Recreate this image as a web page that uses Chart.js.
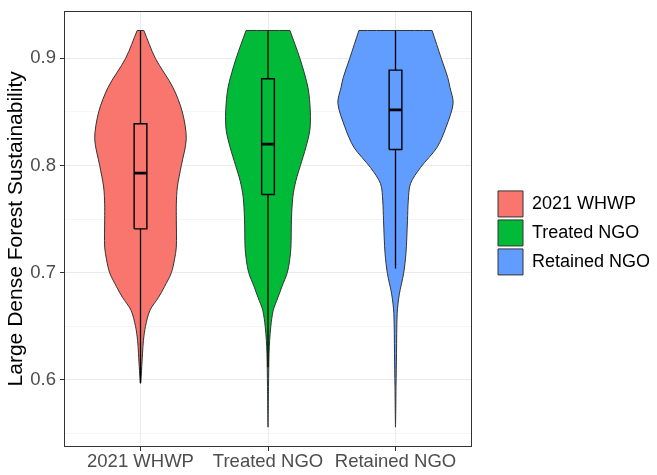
<!DOCTYPE html>
<html>
<head>
<meta charset="utf-8">
<script src="https://cdn.jsdelivr.net/npm/chart.js@4.4.1/dist/chart.umd.min.js"></script>
<style>
  html, body { margin: 0; padding: 0; background: #fff; }
  #wrap { width: 657px; height: 475px; }
</style>
</head>
<body>
<div id="wrap"><canvas id="violinChart" width="657" height="475"></canvas></div>
<script>
// ── DATA ──
const categories = ['2021 WHWP', 'Treated NGO', 'Retained NGO'];
const fills = ['#F8766D', '#00BA38', '#619CFF'];

// violin outlines: value levels (top -> tail) and half width in category units
const whwpLevels = [0.926, 0.900, 0.873, 0.850, 0.825, 0.800, 0.780, 0.764, 0.750, 0.724, 0.712, 0.700, 0.687, 0.677, 0.665, 0.650, 0.637, 0.625, 0.609, 0.597];
const whwpHalf   = [0.026, 0.117, 0.254, 0.328, 0.359, 0.320, 0.289, 0.281, 0.281, 0.281, 0.266, 0.242, 0.188, 0.141, 0.074, 0.039, 0.023, 0.016, 0.008, 0];

const treatedLevels = [0.926, 0.900, 0.873, 0.850, 0.833, 0.817, 0.800, 0.786, 0.771, 0.750, 0.724, 0.712, 0.700, 0.687, 0.677, 0.665, 0.650, 0.637, 0.625, 0.594, 0.556];
const treatedHalf   = [0.172, 0.250, 0.313, 0.332, 0.328, 0.297, 0.254, 0.219, 0.195, 0.184, 0.180, 0.170, 0.151, 0.109, 0.078, 0.041, 0.022, 0.013, 0.008, 0.004, 0];

const retainedLevels = [0.926, 0.900, 0.882, 0.873, 0.858, 0.836, 0.817, 0.798, 0.783, 0.767, 0.749, 0.718, 0.699, 0.680, 0.662, 0.625, 0.594, 0.556];
const retainedHalf   = [0.287, 0.359, 0.410, 0.427, 0.452, 0.397, 0.326, 0.195, 0.117, 0.100, 0.094, 0.082, 0.063, 0.030, 0.013, 0.008, 0.004, 0];

// box plot stats
const q1        = [0.741, 0.773, 0.815];
const medians   = [0.793, 0.820, 0.852];
const q3        = [0.839, 0.881, 0.889];
const whiskerLo = [0.597, 0.612, 0.704];
const whiskerHi = [0.926, 0.926, 0.926];

const yTicks = [0.55, 0.6, 0.65, 0.7, 0.75, 0.8, 0.85, 0.9];
const yMin = 0.5375, yMax = 0.9445;
const boxHalf = 0.05;

const violinLevels = [whwpLevels, treatedLevels, retainedLevels];
const violinHalf   = [whwpHalf, treatedHalf, retainedHalf];

// ── HELPERS ──
const isMajor = v => Math.abs(v * 10 - Math.round(v * 10)) < 1e-6;
const FONT = 'Liberation Sans, Arial, sans-serif';

function violinPath(center, levels, half) {
  const left  = levels.map((v, i) => ({ x: center - half[i], y: v }));
  const right = levels.map((v, i) => ({ x: center + half[i], y: v })).reverse();
  const topRight = right[right.length - 1];
  // repeat the top-right corner so the flat top stays straight
  return left.concat(right.slice(1), [topRight, left[0]]);
}

// ── DATASETS ──
const datasets = [];

categories.forEach((name, i) => {
  datasets.push({
    label: name,
    data: violinPath(i + 1, violinLevels[i], violinHalf[i]),
    showLine: true, fill: 'shape', tension: 0.3,
    backgroundColor: fills[i], borderColor: '#333333', borderWidth: 1,
    pointRadius: 0, order: 1
  });
});

categories.forEach((name, i) => {
  const c = i + 1;
  // whiskers
  datasets.push({
    data: [{ x: c, y: whiskerLo[i] }, { x: c, y: q1[i] }, { x: c, y: null }, { x: c, y: q3[i] }, { x: c, y: whiskerHi[i] }],
    showLine: true, spanGaps: false, borderColor: '#000', borderWidth: 1.3,
    pointRadius: 0, fill: false, order: 0
  });
  // box
  datasets.push({
    data: [
      { x: c - boxHalf, y: q1[i] }, { x: c + boxHalf, y: q1[i] },
      { x: c + boxHalf, y: q3[i] }, { x: c - boxHalf, y: q3[i] },
      { x: c - boxHalf, y: q1[i] }
    ],
    showLine: true, borderColor: '#000', borderWidth: 1.4,
    pointRadius: 0, fill: false, order: 0
  });
  // median
  datasets.push({
    data: [{ x: c - boxHalf, y: medians[i] }, { x: c + boxHalf, y: medians[i] }],
    showLine: true, borderColor: '#000', borderWidth: 2.8,
    pointRadius: 0, fill: false, order: 0
  });
});

// ── PANEL BORDER ──
const panelBorder = {
  id: 'panelBorder',
  afterDatasetsDraw(chart) {
    const { ctx, chartArea: a } = chart;
    ctx.save();
    ctx.strokeStyle = '#333333';
    ctx.lineWidth = 1;
    ctx.strokeRect(Math.round(a.left) + 0.5, Math.round(a.top) + 0.5,
      Math.round(a.right - a.left) - 1, Math.round(a.bottom - a.top) - 1);
    ctx.restore();
  }
};

// ── CHART ──
new Chart(document.getElementById('violinChart'), {
  type: 'scatter',
  data: { datasets },
  plugins: [panelBorder],
  options: {
    responsive: false,
    animation: false,
    layout: { padding: { left: 0, right: 7, top: 10, bottom: 0 } },
    plugins: {
      tooltip: { enabled: false },
      legend: {
        position: 'right', align: 'center', fullSize: false, maxWidth: 155,
        title: { display: true, text: ' ', font: { size: 1 }, padding: { top: 0, bottom: 7 } },
        labels: {
          filter: item => categories.includes(item.text),
          boxWidth: 25, boxHeight: 26, padding: 3,
          color: '#000', font: { family: FONT, size: 18 }
        }
      }
    },
    scales: {
      x: {
        type: 'linear', min: 0.4, max: 3.6,
        afterBuildTicks: a => { a.ticks = categories.map((c, i) => ({ value: i + 1 })); },
        ticks: {
          callback: v => categories[Math.round(v) - 1] || '',
          color: '#4D4D4D', font: { family: FONT, size: 18.5 },
          padding: 0, autoSkip: false, maxRotation: 0
        },
        grid: { color: '#EBEBEB', lineWidth: 1, tickColor: '#333333', tickLength: 4 },
        border: { display: false },
        afterFit: s => { s.height = 28; }
      },
      y: {
        type: 'linear', min: yMin, max: yMax,
        afterBuildTicks: a => { a.ticks = yTicks.map(v => ({ value: v })); },
        ticks: {
          callback: v => isMajor(v) ? v.toFixed(1) : '',
          color: '#4D4D4D', font: { family: FONT, size: 18.5, lineHeight: 0.72 },
          padding: 4, autoSkip: false
        },
        grid: {
          color: '#EBEBEB',
          lineWidth: c => (c.tick && !isMajor(c.tick.value)) ? 0.5 : 1,
          tickColor: c => (c.tick && !isMajor(c.tick.value)) ? 'rgba(0,0,0,0)' : '#333333',
          tickLength: 4
        },
        border: { display: false },
        title: {
          display: true, text: 'Large Dense Forest Sustainability', color: '#000',
          font: { family: FONT, size: 21 },
          padding: { top: 4, bottom: 0 }
        },
        afterFit: s => { s.width = 64; }
      },
      gap: {
        type: 'linear', position: 'right', display: true,
        grid: { display: false, drawTicks: false },
        border: { display: false },
        ticks: { display: false },
        afterFit: s => { s.width = 23; }
      }
    }
  }
});
</script>
</body>
</html>
